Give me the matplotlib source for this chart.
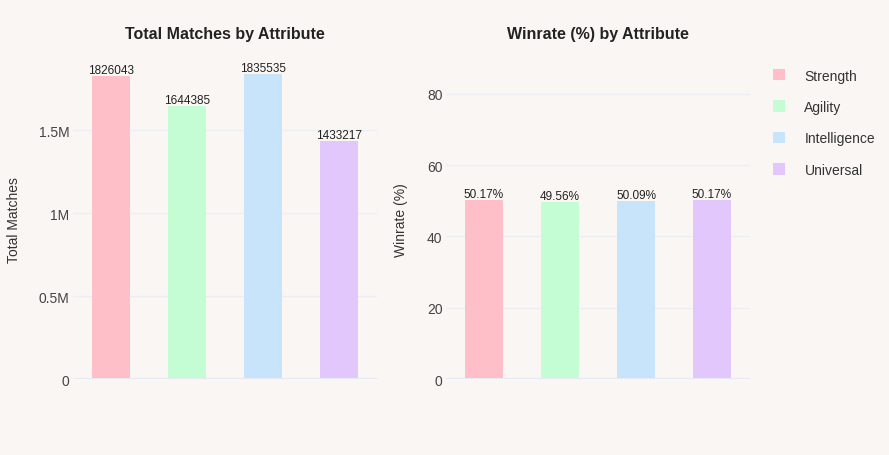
import matplotlib
matplotlib.use('Agg')
import matplotlib.pyplot as plt
from matplotlib.ticker import FixedLocator

attributes = ['Strength', 'Agility', 'Intelligence', 'Universal']
total_matches = [1826043, 1644385, 1835535, 1433217]
winrate = [50.17, 49.56, 50.09, 50.17]
colors = ['#FFBFC8', '#C4FDD3', '#C7E4FB', '#E2C7FD']

match_ticks = [0, 500000, 1000000, 1500000]
match_tick_labels = ['0', '0.5M', '1M', '1.5M']
winrate_ticks = [0, 20, 40, 60, 80]

bg = '#FAF6F3'
grid = '#ECEDF5'
plt.rcParams['font.family'] = ['Liberation Sans', 'DejaVu Sans']

W, H = 889, 456
fig = plt.figure(figsize=(W / 100, H / 100), dpi=100, facecolor=bg)


def make_ax(x0, x1, y0, y1):
    ax = fig.add_axes([x0 / W, 1 - y1 / H, (x1 - x0) / W, (y1 - y0) / H])
    ax.set_facecolor(bg)
    for s in ax.spines.values():
        s.set_visible(False)
    ax.tick_params(axis='both', length=0, labelsize=10, labelcolor='#444444', pad=2.5)
    ax.set_xticks([])
    ax.set_xlim(-0.5, 3.5)
    ax.grid(axis='y', color=grid, linewidth=1)
    ax.set_axisbelow(True)
    return ax


ax1 = make_ax(73, 377, 60, 380)
ax2 = make_ax(446, 750, 60, 380)

for i, (name, v, c) in enumerate(zip(attributes, total_matches, colors)):
    ax1.bar(i, v, width=0.5, color=c, label=name)
    ax1.text(i, v, str(v), ha='center', va='bottom', fontsize=8.5, color='#222222')
ax1.set_ylim(0, 1.928e6)
ax1.yaxis.set_major_locator(FixedLocator(match_ticks))
ax1.set_yticklabels(match_tick_labels)
ax1.axhline(0, color='#E6E8F2', linewidth=1.5)
ax1.set_ylabel('Total Matches', fontsize=10, color='#333333')
ax1.yaxis.set_label_coords(-0.17, 0.5)
ax1.set_title('Total Matches by Attribute', fontsize=11.5, fontweight='bold', color='#222222', pad=15)

bars = []
for i, (name, v, c) in enumerate(zip(attributes, winrate, colors)):
    b = ax2.bar(i, v, width=0.5, color=c, label=name)
    bars.append(b)
    ax2.text(i, v, f'{v:.2f}%', ha='center', va='bottom', fontsize=8.5, color='#222222')
ax2.set_ylim(0, 89.8)
ax2.yaxis.set_major_locator(FixedLocator(winrate_ticks))
ax2.axhline(0, color='#E6E8F2', linewidth=1.5)
ax2.set_ylabel('Winrate (%)', fontsize=10, color='#333333')
ax2.yaxis.set_label_coords(-0.125, 0.5)
ax2.set_title('Winrate (%) by Attribute', fontsize=11.5, fontweight='bold', color='#222222', pad=15)

fig.legend(handles=bars, labels=attributes, loc='upper left', bbox_to_anchor=(760 / W, 1 - 57 / H),
           frameon=False, fontsize=10, handlelength=0.9, handleheight=0.9, handletextpad=1.4,
           labelspacing=1.25, labelcolor='#333333')

fig.savefig('out.png', dpi=100, facecolor=bg)
